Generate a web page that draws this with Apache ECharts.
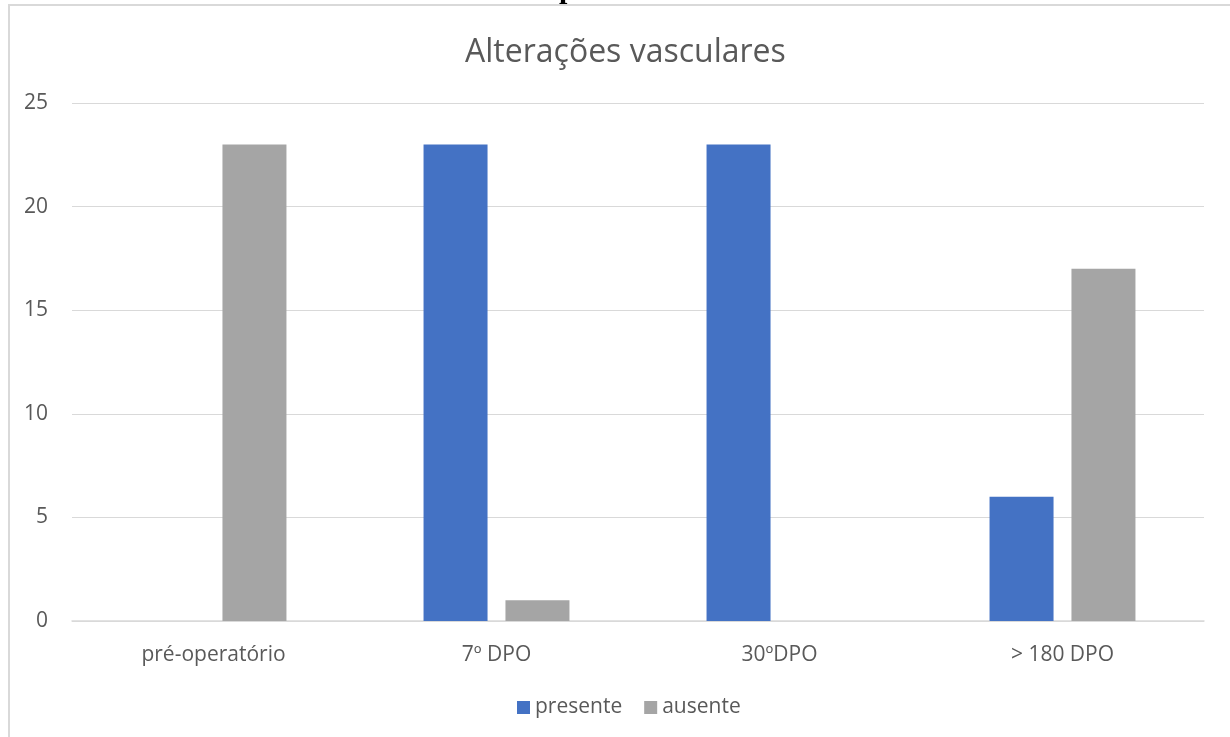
<!DOCTYPE html>
<html>
<head>
<meta charset="utf-8">
<script src="https://cdn.jsdelivr.net/npm/echarts@6/dist/echarts.min.js"></script>
<style>
  html, body { margin: 0; padding: 0; background: #fff; }
  #chart { width: 1230px; height: 737px; }
</style>
</head>
<body>
<div id="chart"></div>
<script>
// Vascular alterations by follow-up moment
const categories = ['pré-operatório', '7º DPO', '30ºDPO', '> 180 DPO'];
const presente = [0, 23, 23, 6];
const ausente = [23, 1, 0, 17];
const yTicks = { min: 0, max: 25, interval: 5 };

const chart = echarts.init(document.getElementById('chart'));
const textColor = '#595959';
const fontFamily = '"Open Sans", "Noto Sans", sans-serif';

chart.setOption({
  animation: false,
  backgroundColor: '#ffffff',
  title: {
    text: 'Alterações vasculares',
    left: 460,
    top: 32,
    textStyle: { color: textColor, fontSize: 32, fontWeight: 'normal', fontFamily: fontFamily }
  },
  graphic: [
    {
      type: 'rect',
      shape: { x: 9, y: 5, width: 1240, height: 760 },
      style: { fill: 'none', stroke: '#d9d9d9', lineWidth: 2 },
      silent: true
    },
    {
      type: 'text',
      left: 559,
      top: -25,
      style: { text: 'p', fontFamily: '"Liberation Serif", serif', fontWeight: 'bold', fontSize: 30, fill: '#000' },
      silent: true
    }
  ],
  legend: {
    bottom: 14,
    left: 512,
    itemWidth: 13,
    itemHeight: 13,
    itemGap: 22,
    icon: 'rect',
    textStyle: { color: textColor, fontSize: 21, fontFamily: fontFamily },
    data: ['presente', 'ausente']
  },
  grid: { left: 72, right: 26, top: 103, bottom: 116 },
  xAxis: {
    type: 'category',
    data: categories,
    axisLine: { lineStyle: { color: '#d9d9d9', width: 1.5 } },
    axisTick: { show: false },
    axisLabel: { color: textColor, fontSize: 21, fontFamily: fontFamily, margin: 24 }
  },
  yAxis: {
    type: 'value',
    min: yTicks.min,
    max: yTicks.max,
    interval: yTicks.interval,
    axisLine: { show: false },
    axisTick: { show: false },
    splitLine: { lineStyle: { color: '#d9d9d9', width: 1 } },
    axisLabel: { color: textColor, fontSize: 21, fontFamily: fontFamily, margin: 24 }
  },
  series: [
    {
      name: 'presente',
      type: 'bar',
      data: presente,
      barWidth: 64,
      barGap: '28%',
      itemStyle: { color: '#4472C4' }
    },
    {
      name: 'ausente',
      type: 'bar',
      data: ausente,
      barWidth: 64,
      barGap: '28%',
      itemStyle: { color: '#A5A5A5' }
    }
  ]
});
</script>
</body>
</html>
